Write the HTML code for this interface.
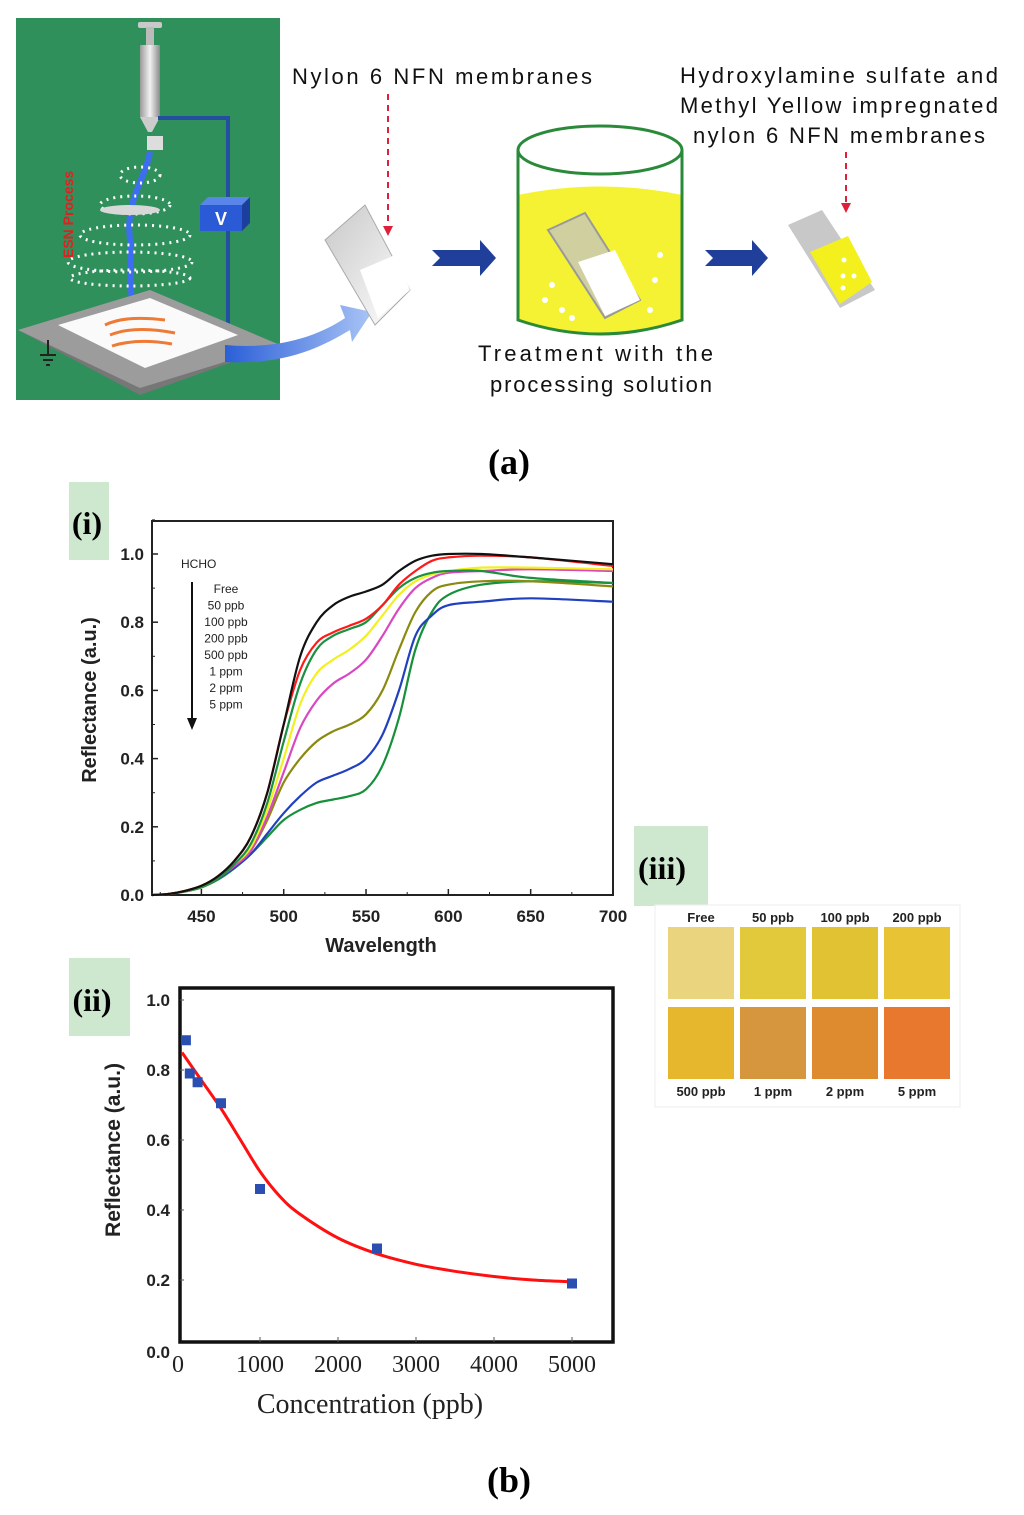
<!DOCTYPE html>
<html><head><meta charset="utf-8"><style>
html,body{margin:0;padding:0;background:#fff;width:1024px;height:1515px;overflow:hidden}
svg{display:block}
.cs{font-family:"Liberation Sans",sans-serif}
.sf{font-family:"Liberation Serif",serif}
</style></head><body>
<svg id="fig" width="1024" height="1515" viewBox="0 0 1024 1515" xmlns="http://www.w3.org/2000/svg">
<defs>
<linearGradient id="syr" x1="0" x2="1"><stop offset="0" stop-color="#9a9a9a"/><stop offset="0.5" stop-color="#f2f2f2"/><stop offset="1" stop-color="#8a8a8a"/></linearGradient>
<linearGradient id="barr" x1="0" x2="1"><stop offset="0" stop-color="#2b5fd8"/><stop offset="1" stop-color="#a9c4f5"/></linearGradient>
<linearGradient id="memg" x1="0" x2="1" y1="0" y2="1"><stop offset="0" stop-color="#c8c8c8"/><stop offset="1" stop-color="#ffffff"/></linearGradient>
</defs>

<!-- ===== Panel (a) ===== -->
<g>
<rect x="16" y="18" width="264" height="382" fill="#30905c"/>
<rect x="138" y="22" width="24" height="6" rx="2" fill="#c9c9c9"/>
<rect x="146" y="27" width="8" height="20" fill="#bbb"/>
<rect x="140" y="45" width="20" height="72" fill="url(#syr)"/>
<polygon points="140,117 160,117 152,132 148,132" fill="#ccc"/>
<rect x="147" y="136" width="16" height="14" fill="#ddd"/>
<polyline points="158,118 228,118 228,330" fill="none" stroke="#234f9e" stroke-width="4"/>
<polygon points="200,205 242,205 250,197 208,197" fill="#5a86ea"/>
<rect x="200" y="205" width="42" height="26" fill="#2b5ad6"/>
<polygon points="242,205 250,197 250,223 242,231" fill="#1c3e9c"/>
<text x="221" y="225" fill="#fff" font-size="18" font-weight="bold" text-anchor="middle" class="cs">V</text>
<path d="M150,152 C145,180 125,200 130,240 C132,270 130,290 132,305" fill="none" stroke="#3d6ef0" stroke-width="6"/>
<g fill="none" stroke="#ffffff" stroke-width="3" stroke-dasharray="2 5">
<ellipse cx="140" cy="175" rx="20" ry="8"/>
<ellipse cx="135" cy="205" rx="35" ry="9"/>
<ellipse cx="135" cy="235" rx="55" ry="10"/>
<ellipse cx="130" cy="262" rx="62" ry="10"/>
<ellipse cx="130" cy="278" rx="60" ry="8"/>
</g>
<ellipse cx="130" cy="210" rx="30" ry="5" fill="#d8d8d8"/>
<text transform="translate(73,258) rotate(-90)" fill="#e02020" font-size="14" font-weight="bold" class="cs">ESN Process</text>
<polygon points="18,330 150,290 280,345 140,395" fill="#777"/>
<polygon points="18,330 150,290 280,345 140,388" fill="#9c9c9c"/>
<polygon points="58,325 150,298 238,335 145,368" fill="#fafafa"/>
<g fill="none" stroke="#ee7a35" stroke-width="3"><path d="M105,325 q20,-10 60,-5"/><path d="M110,335 q25,-10 65,-2"/><path d="M112,346 q25,-8 60,-2"/></g>
<g stroke="#222" stroke-width="2"><line x1="48" y1="340" x2="48" y2="355"/><line x1="40" y1="355" x2="56" y2="355"/><line x1="43" y1="360" x2="53" y2="360"/><line x1="46" y1="365" x2="50" y2="365"/></g>
</g>
<path d="M225,345 C280,350 320,335 345,318 L340,305 L372,312 L352,342 L350,330 C320,348 285,365 225,362 Z" fill="url(#barr)"/>
<g>
<polygon points="325,240 365,205 410,290 375,325" fill="url(#memg)" stroke="#aaa" stroke-width="1"/>
<polygon points="360,270 395,255 410,290 378,318" fill="#fff"/>
</g>
<text x="292" y="84" font-size="22" textLength="300" lengthAdjust="spacing" class="cs" fill="#111">Nylon 6 NFN membranes</text>
<line x1="388" y1="94" x2="388" y2="226" stroke="#e0203a" stroke-width="2" stroke-dasharray="6 5"/>
<polygon points="383,226 393,226 388,236" fill="#e0203a"/>
<polygon points="432,250 480,250 480,240 496,258 480,276 480,266 432,266 440,258" fill="#1f3f9a"/>
<g>
<path d="M518,195 Q600,178 682,195 L682,320 Q600,348 518,320 Z" fill="#f4f232"/>
<path d="M518,150 L518,320 Q600,348 682,320 L682,150" fill="none" stroke="#2a8a3a" stroke-width="3"/>
<ellipse cx="600" cy="150" rx="82" ry="24" fill="none" stroke="#2a8a3a" stroke-width="3"/>
<polygon points="548,230 585,213 640,300 605,318" fill="#cfcfa0" stroke="#999" stroke-width="2"/>
<polygon points="578,262 615,250 640,300 605,316" fill="#fff"/>
<g fill="#fff"><circle cx="552" cy="285" r="3"/><circle cx="545" cy="300" r="3"/><circle cx="562" cy="310" r="3"/><circle cx="660" cy="255" r="3"/><circle cx="655" cy="280" r="3"/><circle cx="650" cy="310" r="3"/><circle cx="572" cy="318" r="3"/></g>
</g>
<text x="478" y="361" font-size="22" textLength="235" lengthAdjust="spacing" class="cs" fill="#111">Treatment with the</text>
<text x="490" y="392" font-size="22" textLength="222" lengthAdjust="spacing" class="cs" fill="#111">processing solution</text>
<polygon points="705,250 752,250 752,240 768,258 752,276 752,266 705,266 713,258" fill="#1f3f9a"/>
<g>
<polygon points="788,225 822,210 875,290 840,308" fill="#c8c8c8"/>
<polygon points="810,252 848,236 872,282 840,304" fill="#f4f01e"/>
<g fill="#fff"><circle cx="844" cy="260" r="2.5"/><circle cx="843" cy="276" r="2.5"/><circle cx="854" cy="276" r="2.5"/><circle cx="843" cy="288" r="2.5"/></g>
</g>
<text x="680" y="83" font-size="22" textLength="318" lengthAdjust="spacing" class="cs" fill="#111">Hydroxylamine sulfate and</text>
<text x="680" y="113" font-size="22" textLength="318" lengthAdjust="spacing" class="cs" fill="#111">Methyl Yellow impregnated</text>
<text x="693" y="143" font-size="22" textLength="292" lengthAdjust="spacing" class="cs" fill="#111">nylon 6 NFN membranes</text>
<line x1="846" y1="152" x2="846" y2="203" stroke="#e0203a" stroke-width="2" stroke-dasharray="6 5"/>
<polygon points="841,203 851,203 846,213" fill="#e0203a"/>
<text x="509" y="474" font-size="36" font-weight="bold" text-anchor="middle" class="sf">(a)</text>

<!-- ===== Panel labels ===== -->
<rect x="69" y="482" width="40" height="78" fill="#cde8cf"/>
<text x="87" y="534" font-size="32" font-weight="bold" text-anchor="middle" class="sf">(i)</text>
<rect x="69" y="958" width="61" height="78" fill="#cde8cf"/>
<text x="92" y="1011" font-size="32" font-weight="bold" text-anchor="middle" class="sf">(ii)</text>
<rect x="634" y="826" width="74" height="80" fill="#cde8cf"/>
<text x="662" y="879" font-size="32" font-weight="bold" text-anchor="middle" class="sf">(iii)</text>

<g id="chart1"></g>
<g id="chart2"></g>

<!-- ===== Panel (iii) swatches ===== -->
<g id="swatches">
<rect x="655" y="905" width="305" height="202" fill="#fff" stroke="#eee"/>
</g>

<text x="509" y="1492" font-size="36" font-weight="bold" text-anchor="middle" class="sf">(b)</text>
</svg>
<script>
// ---- chart (i) data ----
const wavelengths = [420,430,440,450,460,470,480,490,500,510,520,530,540,550,560,570,580,590,600,620,650,700];
const seriesNames = ["Free","50 ppb","100 ppb","200 ppb","500 ppb","1 ppm","2 ppm","5 ppm"];
const seriesColors = ["#111111","#ff1a1a","#1a9040","#f2f020","#d848c0","#8a8a10","#2040c0","#16903a"];
const sFree   = [0,0.003,0.012,0.027,0.055,0.1,0.17,0.3,0.5,0.7,0.8,0.85,0.875,0.89,0.91,0.95,0.98,0.995,1.0,1.0,0.99,0.97];
const s50ppb  = [0,0.003,0.012,0.027,0.055,0.1,0.17,0.3,0.5,0.66,0.74,0.77,0.79,0.81,0.85,0.91,0.95,0.98,0.99,0.995,0.99,0.965];
const s100ppb = [0,0.003,0.012,0.025,0.05,0.09,0.15,0.27,0.45,0.62,0.72,0.76,0.78,0.8,0.85,0.9,0.93,0.945,0.95,0.95,0.93,0.915];
const s200ppb = [0,0.003,0.012,0.025,0.05,0.09,0.14,0.25,0.4,0.56,0.65,0.69,0.72,0.76,0.82,0.88,0.92,0.94,0.95,0.96,0.96,0.955];
const s500ppb = [0,0.003,0.012,0.025,0.05,0.085,0.13,0.23,0.36,0.49,0.57,0.62,0.65,0.69,0.76,0.84,0.9,0.93,0.945,0.95,0.955,0.95];
const s1ppm   = [0,0.003,0.012,0.025,0.05,0.085,0.13,0.22,0.33,0.4,0.45,0.48,0.5,0.53,0.6,0.72,0.83,0.89,0.91,0.92,0.92,0.905];
const s2ppm   = [0,0.003,0.012,0.025,0.048,0.08,0.12,0.18,0.24,0.29,0.33,0.35,0.37,0.4,0.47,0.6,0.76,0.82,0.85,0.86,0.87,0.86];
const s5ppm   = [0,0.002,0.01,0.022,0.045,0.078,0.12,0.17,0.22,0.25,0.27,0.28,0.29,0.31,0.38,0.52,0.72,0.83,0.88,0.91,0.92,0.915];
const xTicks1 = [450,500,550,600,650,700];
const yTicks1 = [0.0,0.2,0.4,0.6,0.8,1.0];
// ---- chart (ii) data ----
const concPoints = [50,100,200,500,1000,2500,5000];
const reflPoints = [0.885,0.79,0.765,0.705,0.46,0.29,0.19];
const fitConc = [0,250,500,750,1000,1250,1500,2000,2500,3000,3500,4000,4500,5000];
const fitRefl = [0.85,0.77,0.69,0.6,0.51,0.44,0.39,0.32,0.275,0.245,0.225,0.21,0.2,0.195];
const xTicks2 = [1000,2000,3000,4000,5000];
const yTicks2 = [0.2,0.4,0.6,0.8,1.0];
// ---- panel (iii) data ----
const swatchLabels = ["Free","50 ppb","100 ppb","200 ppb","500 ppb","1 ppm","2 ppm","5 ppm"];
const swatchColors = ["#ead47e","#e2c93c","#e1c232","#e8c434","#e6b62c","#d6963e","#de8a2e","#e8782e"];

const NS="http://www.w3.org/2000/svg";
function mk(parent,tag,attrs,text){const e=document.createElementNS(NS,tag);for(const k in attrs)e.setAttribute(k,attrs[k]);if(text!==undefined)e.textContent=text;parent.appendChild(e);return e;}
function smooth(pts){
 let d='M'+pts[0][0].toFixed(1)+','+pts[0][1].toFixed(1);
 for(let i=0;i<pts.length-1;i++){
  const p0=pts[Math.max(0,i-1)],p1=pts[i],p2=pts[i+1],p3=pts[Math.min(pts.length-1,i+2)];
  const c1x=p1[0]+(p2[0]-p0[0])/6,c1y=p1[1]+(p2[1]-p0[1])/6;
  const c2x=p2[0]-(p3[0]-p1[0])/6,c2y=p2[1]-(p3[1]-p1[1])/6;
  d+=' C'+c1x.toFixed(1)+','+c1y.toFixed(1)+' '+c2x.toFixed(1)+','+c2y.toFixed(1)+' '+p2[0].toFixed(1)+','+p2[1].toFixed(1);
 }
 return d;
}

// chart (i)
(function(){
const g=document.getElementById('chart1');
const L=152,R=613,T=521,B=895;
const x=v=>L+(v-420)*(R-L)/280;
const y=v=>B-v*341;
const allSeries=[sFree,s50ppb,s100ppb,s200ppb,s500ppb,s1ppm,s2ppm,s5ppm];
const fr=mk(g,'rect',{x:L,y:T,width:R-L,height:B-T,fill:'none',stroke:'#222','stroke-width':2});


xTicks1.forEach(t=>{
 mk(g,'line',{x1:x(t),y1:B,x2:x(t),y2:B-6,stroke:'#222','stroke-width':1.5});
 mk(g,'line',{x1:x(t-25),y1:B,x2:x(t-25),y2:B-3,stroke:'#222','stroke-width':1});
 const lb=mk(g,'text',{x:x(t),y:B+27,'font-size':17,'font-weight':'bold','text-anchor':'middle',class:'cs',fill:'#222'},String(t));
 
 
});
yTicks1.forEach(t=>{
 mk(g,'line',{x1:L,y1:y(t),x2:L+6,y2:y(t),stroke:'#222','stroke-width':1.5});
 mk(g,'line',{x1:L,y1:y(t+0.1),x2:L+3,y2:y(t+0.1),stroke:'#222','stroke-width':1});
 const lb=mk(g,'text',{x:L-8,y:y(t)+6,'font-size':17,'font-weight':'bold','text-anchor':'end',class:'cs',fill:'#222'},t.toFixed(1));
 
 
});
const xt=mk(g,'text',{x:381,y:952,'font-size':20,'font-weight':'bold','text-anchor':'middle',class:'cs',fill:'#222'},'Wavelength');


const yt=mk(g,'text',{transform:'translate(96,700) rotate(-90)','font-size':20,'font-weight':'bold','text-anchor':'middle',class:'cs',fill:'#222'},'Reflectance (a.u.)');


allSeries.slice().reverse().forEach((s,ri)=>{
 const i=allSeries.length-1-ri;
 const d=smooth(s.map((v,j)=>[x(wavelengths[j]),y(v)]));
 const p=mk(g,'path',{d:d,fill:'none',stroke:seriesColors[i],'stroke-width':2.2,'stroke-linejoin':'round'});
 
 
});
const h=mk(g,'text',{x:181,y:568,'font-size':12,class:'cs',fill:'#222'},'HCHO');


mk(g,'line',{x1:192,y1:582,x2:192,y2:720,stroke:'#111','stroke-width':2});
mk(g,'polygon',{points:'187,718 197,718 192,730',fill:'#111'});
seriesNames.forEach((n,i)=>{
 const t=mk(g,'text',{x:226,y:593+i*16.5,'font-size':12,'text-anchor':'middle',class:'cs',fill:'#222'},n);
 
 
});
})();

// chart (ii)
(function(){
const g=document.getElementById('chart2');
const L=180,R=613,T=988,B=1342;
const x=v=>182+v*0.078;
const y=v=>1350-v*350;
const fr=mk(g,'rect',{x:L,y:T,width:R-L,height:B-T,fill:'none',stroke:'#111','stroke-width':3.5});


const z=mk(g,'text',{x:178,y:1372,'font-size':24,'text-anchor':'middle',class:'sf',fill:'#222'},'0');


xTicks2.forEach(t=>{
 mk(g,'line',{x1:x(t),y1:B,x2:x(t),y2:B-5,stroke:'#555','stroke-width':1});
 const lb=mk(g,'text',{x:x(t),y:1372,'font-size':24,'text-anchor':'middle',class:'sf',fill:'#222'},String(t));
 
 
});
const y0=mk(g,'text',{x:170,y:1358,'font-size':17,'font-weight':'bold','text-anchor':'end',class:'cs',fill:'#222'},'0.0');


yTicks2.forEach(t=>{
 mk(g,'line',{x1:L,y1:y(t),x2:L+4,y2:y(t),stroke:'#555','stroke-width':1});
 const lb=mk(g,'text',{x:170,y:y(t)+6,'font-size':17,'font-weight':'bold','text-anchor':'end',class:'cs',fill:'#222'},t.toFixed(1));
 
 
});
const xt=mk(g,'text',{x:370,y:1413,'font-size':28,'text-anchor':'middle',class:'sf',fill:'#222'},'Concentration (ppb)');


const yt=mk(g,'text',{transform:'translate(120,1150) rotate(-90)','font-size':21,'font-weight':'bold','text-anchor':'middle',class:'cs',fill:'#222'},'Reflectance (a.u.)');


const d=smooth(fitConc.map((v,j)=>[x(v),y(fitRefl[j])]));
const fit=mk(g,'path',{d:d,fill:'none',stroke:'#ff1010','stroke-width':3,'stroke-linejoin':'round'});


concPoints.forEach((c,i)=>{
 const r=mk(g,'rect',{x:x(c)-5,y:y(reflPoints[i])-5,width:10,height:10,fill:'#2a4fb0'});
 
 
});
})();

// swatches
(function(){
const g=document.getElementById('swatches');
const xs=[668,740,812,884];
swatchLabels.forEach((lab,i)=>{
 const row=Math.floor(i/4),col=i%4;
 const sy=row?1007:927;
 const r=mk(g,'rect',{x:xs[col],y:sy,width:66,height:72,fill:swatchColors[i]});
 
 
 const t=mk(g,'text',{x:xs[col]+33,y:row?1096:922,'font-size':13,'font-weight':'bold','text-anchor':'middle',class:'cs',fill:'#222'},lab);
 
 
});
})();
</script>
</body></html>
